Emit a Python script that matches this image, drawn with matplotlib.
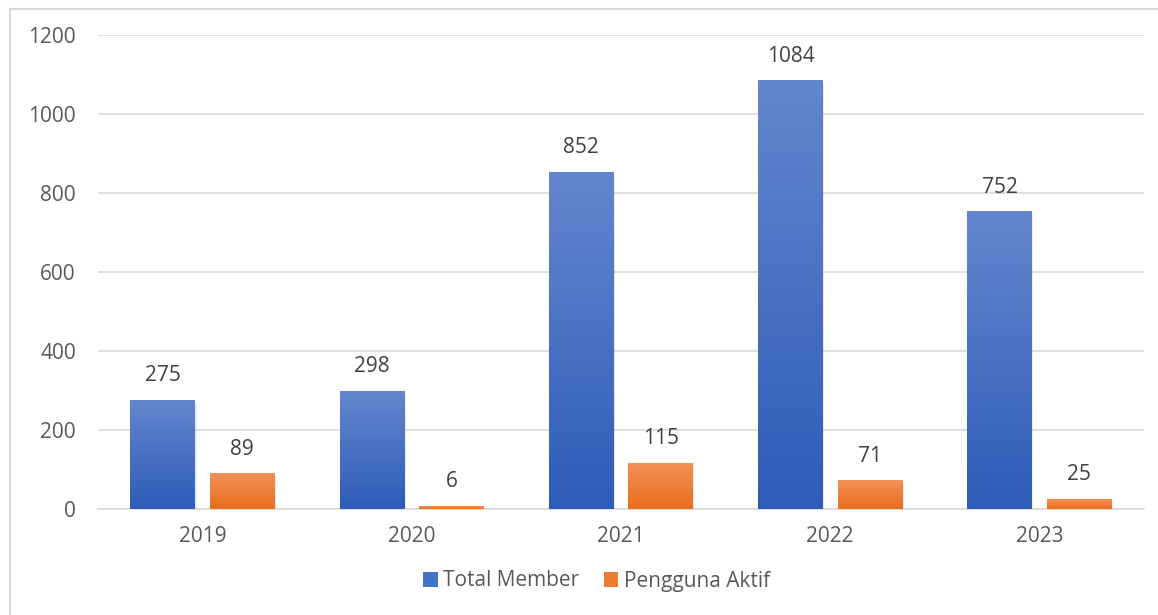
import matplotlib.pyplot as plt
import numpy as np
from matplotlib.patches import Rectangle
from matplotlib.colors import LinearSegmentedColormap

# dados
anos = ['2019', '2020', '2021', '2022', '2023']
total_member = [275, 298, 852, 1084, 752]
pengguna_aktif = [89, 6, 115, 71, 25]

plt.rcParams['font.family'] = ['Open Sans', 'DejaVu Sans']
cinza = '#595959'

fig = plt.figure(figsize=(11.58, 6.15), dpi=100)
ax = fig.add_axes([98 / 1158, 1 - 509 / 615, 1046 / 1158, 474 / 615])

# moldura do grafico (so topo e esquerda aparecem)
fig.patches.append(Rectangle((9.5 / 1158, -0.05), 1.1, 1 - 8.5 / 615 + 0.05,
                             transform=fig.transFigure, fill=False,
                             edgecolor='#d9d9d9', linewidth=1.5))

azul = LinearSegmentedColormap.from_list('azul', ['#2e5cb8', '#6486cd'])
laranja = LinearSegmentedColormap.from_list('laranja', ['#e86d1c', '#f39159'])

pos = np.arange(len(anos))
largura = 0.31
desl = 0.19


def barra_gradiente(x, h, cmap):
    grad = np.linspace(0, 1, 256).reshape(-1, 1)
    ax.imshow(grad, cmap=cmap, origin='lower', aspect='auto',
              extent=(x - largura / 2, x + largura / 2, 0, h), zorder=3)
    # sombra leve
    ax.add_patch(Rectangle((x - largura / 2 + 0.006, -6), largura, h,
                           facecolor='#000000', alpha=0.08, zorder=2.5,
                           linewidth=0))


for i in range(len(anos)):
    barra_gradiente(pos[i] - desl, total_member[i], azul)
    barra_gradiente(pos[i] + desl, pengguna_aktif[i], laranja)
    ax.text(pos[i] - desl, total_member[i] + 36, str(total_member[i]),
            ha='center', va='bottom', fontsize=15, color='#404040')
    ax.text(pos[i] + desl, pengguna_aktif[i] + 36, str(pengguna_aktif[i]),
            ha='center', va='bottom', fontsize=15, color='#404040')

ax.set_xlim(-0.5, len(anos) - 0.5)
ax.set_ylim(0, 1200)
ax.set_yticks(range(0, 1201, 200))
ax.set_xticks(pos)
ax.set_xticklabels(anos)
ax.yaxis.grid(True, color='#d9d9d9', linewidth=1.2, zorder=0)
ax.set_axisbelow(True)
for s in ['top', 'right', 'left']:
    ax.spines[s].set_visible(False)
ax.spines['bottom'].set_color('#d9d9d9')
ax.spines['bottom'].set_linewidth(1.2)
ax.tick_params(axis='both', length=0, labelsize=15, colors=cinza)
ax.tick_params(axis='x', pad=12)
ax.tick_params(axis='y', pad=16)

# legenda
h1 = Rectangle((0, 0), 1, 1, facecolor='#4472c4')
h2 = Rectangle((0, 0), 1, 1, facecolor='#ed7d31')
fig.legend([h1, h2], ['Total Member', 'Pengguna Aktif'], loc='center',
           bbox_to_anchor=(0.515, 1 - 581 / 615), ncol=2, frameon=False,
           fontsize=15, labelcolor=cinza, handlelength=0.7, handleheight=0.7,
           handletextpad=0.25, columnspacing=1.2)

fig.savefig('out.png', dpi=100)
